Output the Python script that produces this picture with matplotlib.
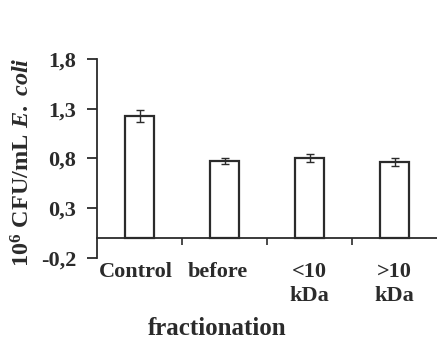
import numpy as np
import matplotlib.pyplot as plt
from matplotlib.transforms import ScaledTranslation

plt.rcParams['font.family'] = ['Liberation Serif', 'DejaVu Serif']
plt.rcParams['font.weight'] = 'bold'
plt.rcParams['mathtext.fontset'] = 'custom'
plt.rcParams['mathtext.rm'] = 'Liberation Serif'
plt.rcParams['mathtext.it'] = 'Liberation Serif:italic'
plt.rcParams['mathtext.bf'] = 'Liberation Serif:bold'

# data
categories = ['Control', 'before', '<10\nkDa', '>10\nkDa']
values = [1.23, 0.77, 0.80, 0.76]
errors = [0.06, 0.03, 0.04, 0.04]
yticks = [-0.2, 0.3, 0.8, 1.3, 1.8]
ytick_labels = ['-0,2', '0,3', '0,8', '1,3', '1,8']

ink = '#2b2b2b'

fig = plt.figure(figsize=(4.37, 3.43), dpi=100)
ax = fig.add_axes([0.222, 0.248, 0.778, 0.58])

x = np.arange(len(categories))
ax.bar(x, values, width=0.33, color='white', edgecolor=ink, linewidth=1.6, zorder=2)
ax.errorbar(x, values, yerr=errors, fmt='none', ecolor=ink, elinewidth=1.0,
            capsize=3, capthick=1.0, zorder=3)

ax.set_xlim(-0.5, 3.5)
ax.set_ylim(-0.2, 1.8)

for s in ['top', 'right']:
    ax.spines[s].set_visible(False)
ax.spines['bottom'].set_position(('data', 0))
ax.spines['bottom'].set_linewidth(1.3)
ax.spines['bottom'].set_color(ink)
ax.spines['left'].set_linewidth(1.3)
ax.spines['left'].set_color(ink)

ax.set_yticks(yticks)
ax.set_yticklabels(ytick_labels, fontsize=16, fontweight='bold', color=ink)
ax.tick_params(axis='y', direction='out', length=7, width=1.3, color=ink, pad=8)

ax.set_xticks(x)
ax.set_xticklabels(categories, fontsize=16, fontweight='bold', color=ink,
                   linespacing=1.32, va='top')
ax.set_xticks(x[:-1] + 0.5, minor=True)
ax.tick_params(axis='x', which='major', length=0, pad=17)
ax.tick_params(axis='x', which='minor', direction='out', length=5, width=1.2, color=ink)

# "Control before" reads as one phrase, nudged a bit left
for lbl, dx in zip(ax.get_xticklabels()[:2], [-4, -7]):
    lbl.set_transform(lbl.get_transform() + ScaledTranslation(dx / 100, 0, fig.dpi_scale_trans))

fig.text(0.497, 0.022, 'fractionation', fontsize=18, fontweight='bold',
         color=ink, ha='center', va='baseline')
fig.text(0.052, 0.528, r'$\mathbf{10^{6}\ CFU/mL}\ \mathit{E.\ coli}$', fontsize=17.5,
         color=ink, rotation=90, ha='center', va='center')

fig.savefig('out.png', dpi=100, facecolor='white')
